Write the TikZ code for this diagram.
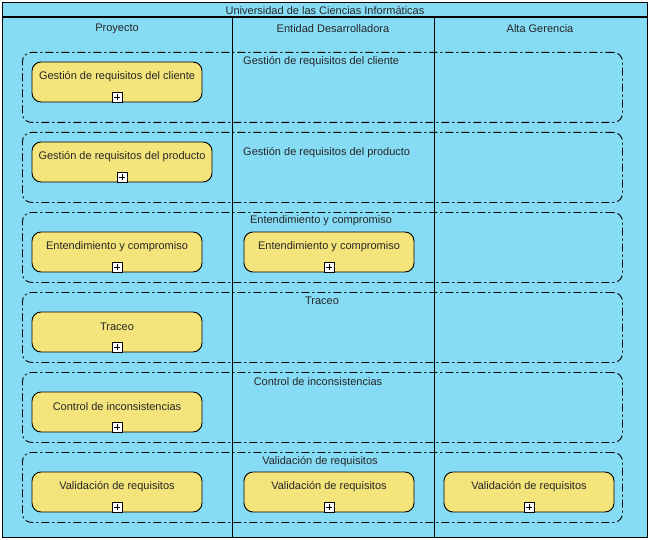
\documentclass[tikz,border=0pt]{standalone}
\usepackage{fontspec}
\setmainfont{Liberation Sans}
\begin{document}
\begin{tikzpicture}[x=1pt,y=-1pt,
  every node/.style={font=\fontsize{11}{13}\selectfont, text=black!85},
  lanebg/.style={fill=laneblue, draw=black, line width=1pt},
  grp/.style={draw=black, line width=0.9pt, rounded corners=9pt, dash pattern=on 8pt off 3pt on 2pt off 3pt, inner sep=0pt},
  task/.style={draw=black, line width=0.9pt, fill=taskyellow, rounded corners=9pt, minimum width=170pt, minimum height=40pt, inner sep=0pt},
  plusbox/.style={draw=black, line width=0.8pt, fill=white, minimum size=10pt, inner sep=0pt, anchor=south,
    path picture={\draw[line width=0.8pt] ([xshift=2pt]path picture bounding box.west) -- ([xshift=-2pt]path picture bounding box.east);
                  \draw[line width=0.8pt] ([yshift=2pt]path picture bounding box.south) -- ([yshift=-2pt]path picture bounding box.north);}},
  lbl/.style={inner sep=0pt}
]
\definecolor{laneblue}{RGB}{135,220,245}
\definecolor{taskyellow}{RGB}{244,228,124}
\useasboundingbox (0,0) rectangle (650,540);
% pool
\node[lanebg, minimum width=645pt, minimum height=535pt, anchor=north west, inner sep=0pt] (pool) at (2,2) {};
\coordinate (hl) at (2,17);
\coordinate (hr) at (647,17);
\draw[line width=1.4pt] (hl) -- (hr);
\node[lbl] (title) at (325,11) {Universidad de las Ciencias Informáticas};
\coordinate (s1t) at (232,17); \coordinate (s1b) at (232,537);
\coordinate (s2t) at (434,17); \coordinate (s2b) at (434,537);
\draw[line width=1pt] (s1t) -- (s1b);
\draw[line width=1pt] (s2t) -- (s2b);
\node[lbl] (h1) at (117,28.5) {Proyecto};
\node[lbl] (h2) at (333,28.5) {Entidad Desarrolladora};
\node[lbl] (h3) at (540,28.5) {Alta Gerencia};
% groups
\node[grp, minimum width=600pt, minimum height=70pt, anchor=north west] (g1) at (22,52) {};
\node[grp, minimum width=600pt, minimum height=70pt, anchor=north west] (g2) at (22,132) {};
\node[grp, minimum width=600pt, minimum height=70pt, anchor=north west] (g3) at (22,212) {};
\node[grp, minimum width=600pt, minimum height=70pt, anchor=north west] (g4) at (22,292) {};
\node[grp, minimum width=600pt, minimum height=70pt, anchor=north west] (g5) at (22,372) {};
\node[grp, minimum width=600pt, minimum height=70pt, anchor=north west] (g6) at (22,452) {};
\node[lbl, anchor=west] (gl1) at (243,61.5) {Gestión de requisitos del cliente};
\node[lbl, anchor=west] (gl2) at (243,152.5) {Gestión de requisitos del producto};
\node[lbl] (gl3) at (321,220.5) {Entendimiento y compromiso};
\node[lbl] (gl4) at (322,300.5) {Traceo};
\node[lbl] (gl5) at (318,381.5) {Control de inconsistencias};
\node[lbl] (gl6) at (320,462) {Validación de requisitos};
% tasks
\node[task] (t1) at (117,82) {};
\node[task, minimum width=180pt] (t2) at (122,162) {};
\node[task] (t3a) at (117,252) {};
\node[task] (t3b) at (329,252) {};
\node[task] (t4) at (117,332) {};
\node[task] (t5) at (117,412) {};
\node[task] (t6a) at (117,492) {};
\node[task] (t6b) at (329,492) {};
\node[task] (t6c) at (529,492) {};
\foreach \t/\txt in {t1/Gestión de requisitos del cliente, t2/Gestión de requisitos del producto, t3a/Entendimiento y compromiso, t3b/Entendimiento y compromiso, t4/Traceo, t5/Control de inconsistencias, t6a/Validación de requisitos, t6b/Validación de requisitos, t6c/Validación de requisitos}{
  \node[lbl] (\t txt) at ([yshift=-15.5pt]\t.north) {\txt};
  \node[plusbox] (\t plus) at (\t.south) {};
}
\end{tikzpicture}
\end{document}
